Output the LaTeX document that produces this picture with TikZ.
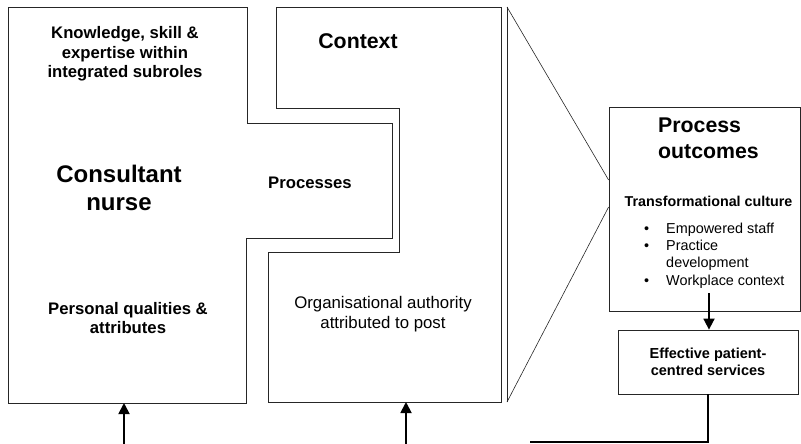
\documentclass[tikz,border=0pt]{standalone}
\usepackage{fontspec}
\setmainfont{Liberation Sans}
\usetikzlibrary{arrows.meta,positioning}

\begin{document}
\begin{tikzpicture}[x=1pt, y=-1pt, >={Triangle[length=11pt,width=11pt]},
  outline/.style={draw=black!85, line width=0.8pt},
  flow/.style={->, line width=1.8pt},
  heading/.style={align=center, inner sep=0pt, font=\bfseries\fontsize{16.7}{19.5}\selectfont},
  bighead/.style={align=center, inner sep=0pt, font=\bfseries\fontsize{21.3}{26}\selectfont},
  plain/.style={align=center, inner sep=0pt, font=\fontsize{16.8}{19.5}\selectfont},
  small/.style={align=left, inner sep=0pt, font=\fontsize{14.4}{17.3}\selectfont}]
  \useasboundingbox (0,0) rectangle (801,444);

  % the two interlocking outlines
  \draw[outline] (8,7) -- (247,7) -- (247,123) -- (392,123) -- (392,238)
    -- (246,238) -- (246,403) -- (8,403) -- cycle;
  \draw[outline] (276,7) -- (501,7) -- (501,402) -- (268,402) -- (268,252)
    -- (399,252) -- (399,108) -- (276,108) -- cycle;

  \node[heading] (skills) at (125,54) {Knowledge, skill \&\\expertise within\\integrated subroles};
  \node[heading, font=\bfseries\fontsize{24}{28}\selectfont] (nurse) at (119,188) {Consultant\\nurse};
  \node[heading] (qualities) at (128,318) {Personal qualities \&\\attributes};
  \node[bighead] (context) at (358,41) {Context};
  \node[heading] (processes) at (310,183) {Processes};
  \node[plain] (authority) at (383,314) {Organisational authority\\attributed to post};

  % outcome boxes
  \node[outline, minimum width=191pt, minimum height=204pt, inner sep=0pt] (outcomes) at (704.5,209) {};
  \node[bighead, align=left, anchor=west] (outTitle) at (658,138) {Process\\outcomes};
  \node[heading, font=\bfseries\fontsize{14.3}{17}\selectfont] (culture) at (708.5,201) {Transformational culture};
  \node[small, anchor=north west] (list) at (644,221) {%
    \begin{tabular}{@{}l@{\hspace{17pt}}l@{}}
      \textbullet & Empowered staff\\
      \textbullet & Practice\\
                  & development\\
      \textbullet & Workplace context
    \end{tabular}};
  \node[outline, minimum width=180pt, minimum height=64pt, heading,
    font=\bfseries\fontsize{14.5}{17}\selectfont] (services) at (708,362) {Effective patient-\\centred services};

  % funnel into the outcomes
  \draw[black!85, line width=0.6pt] (507,7) -- (507,402);
  \draw[black!85, line width=0.6pt] (507,7) -- (outcomes.west |- 0,180);
  \draw[black!85, line width=0.6pt] (507,402) -- (outcomes.west |- 0,207);

  \coordinate (outTail) at (709,293);
  \draw[flow] (outTail) -- (outTail |- services.north);
  \coordinate (loopEnd) at (530,442);
  \draw[line width=1.8pt] (services.south) |- (loopEnd);

  \coordinate (nurseIn) at (124,444);
  \coordinate (nurseBase) at (124,403);
  \coordinate (contextIn) at (406,444);
  \coordinate (contextBase) at (406,402);
  \draw[flow] (nurseIn) -- (nurseBase);
  \draw[flow] (contextIn) -- (contextBase);
\end{tikzpicture}
\end{document}
